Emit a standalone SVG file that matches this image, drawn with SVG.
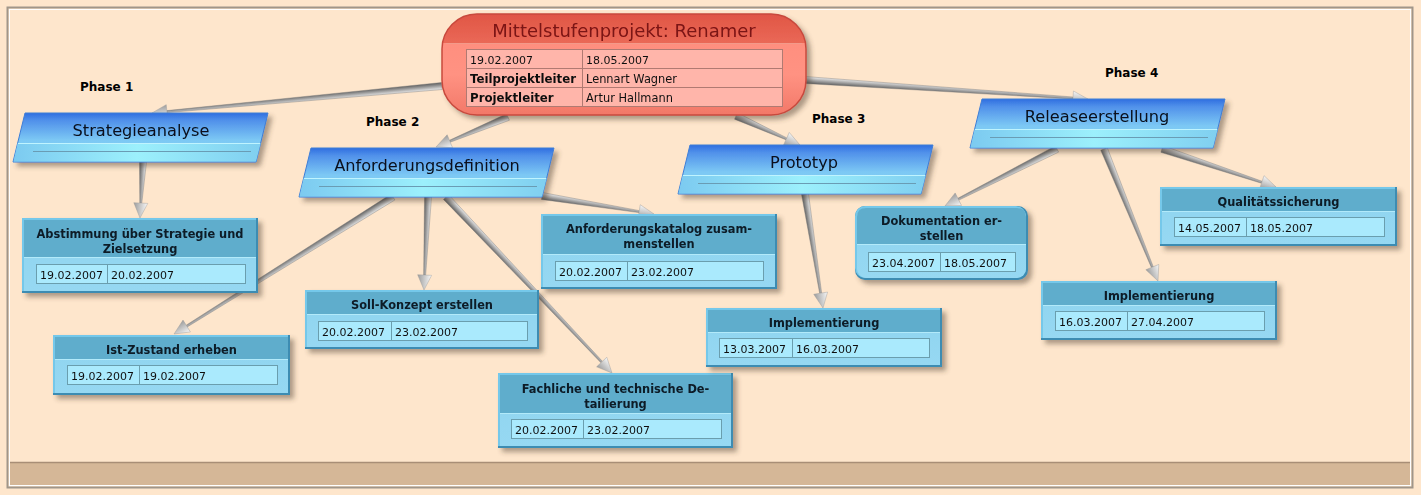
<svg xmlns="http://www.w3.org/2000/svg" width="1421" height="495" viewBox="0 0 1421 495">
<style>
.t{font-family:"DejaVu Sans",Verdana,sans-serif;font-size:11px;fill:#111}
.b{font-family:"DejaVu Sans",Verdana,sans-serif;font-size:11.4px;font-weight:bold;fill:#0d1a26}
.rb{font-family:"DejaVu Sans",Verdana,sans-serif;font-size:11.8px;font-weight:bold;fill:#111}
.rn{font-family:"DejaVu Sans",Verdana,sans-serif;font-size:11.4px;fill:#111}
.pl{font-family:"DejaVu Sans",Verdana,sans-serif;font-size:12px;font-weight:bold;fill:#000}
.pt{font-family:"DejaVu Sans",Verdana,sans-serif;font-size:16.2px;fill:#07101c}
.rt{font-family:"DejaVu Sans",Verdana,sans-serif;font-size:18px;fill:#7a1212}
.mid{text-anchor:middle}
.ed{fill:#3d8cb2}
.el{fill:#74c8ea}
.bd{fill:url(#bodyG)}
.hd{fill:#5fadcc}
.hl{stroke:#b2eafa;stroke-width:1}
.tb{fill:#aaeafd;stroke:#6b9eae;stroke-width:1}
.tl{stroke:#6b9eae;stroke-width:1}
.pg{fill:url(#phG);stroke:#3f7ed6;stroke-width:1}
.pb{fill:url(#bandG)}
.ps{stroke:#6a9cb4;stroke-width:1}
.pw{stroke:#bff4ff;stroke-width:1}
.sh{fill:url(#shaftG);stroke:#7a7a7a;stroke-width:0.4}
.ah{fill:url(#headG);stroke:#9a9a9a;stroke-width:0.4}
</style>
<defs>
<filter id="ds" x="-10%" y="-20%" width="130%" height="150%">
<feDropShadow dx="4" dy="4" stdDeviation="2.5" flood-color="#4a3a2a" flood-opacity="0.45"/>
</filter>
<linearGradient id="bodyG" x1="0" y1="0" x2="0" y2="1">
<stop offset="0" stop-color="#8ed4ef"/><stop offset="1" stop-color="#96d8f2"/>
</linearGradient>
<linearGradient id="phG" x1="0" y1="0" x2="0" y2="1">
<stop offset="0" stop-color="#2f6ee0"/><stop offset="0.15" stop-color="#5090ea"/><stop offset="0.55" stop-color="#7cc8f4"/><stop offset="1" stop-color="#86d2f2"/>
</linearGradient>
<linearGradient id="bandG" x1="0" y1="0" x2="1" y2="0">
<stop offset="0" stop-color="#7ccaf0"/><stop offset="0.5" stop-color="#9cf0fc"/><stop offset="1" stop-color="#80cff0"/>
</linearGradient>
<linearGradient id="rootG" x1="0" y1="0" x2="0" y2="1">
<stop offset="0" stop-color="#ff8c7c"/><stop offset="0.6" stop-color="#ff9282"/><stop offset="1" stop-color="#f27868"/>
</linearGradient>
<linearGradient id="rootH" x1="0" y1="0" x2="0" y2="1">
<stop offset="0" stop-color="#e05646"/><stop offset="1" stop-color="#ea6856"/>
</linearGradient>
<linearGradient id="shaftG" x1="0" y1="0" x2="0" y2="1">
<stop offset="0" stop-color="#ececec"/><stop offset="1" stop-color="#5e5e5e"/>
</linearGradient>
<linearGradient id="headG" x1="0" y1="0" x2="0" y2="1">
<stop offset="0" stop-color="#f8f8f8"/><stop offset="1" stop-color="#9c9c9c"/>
</linearGradient>
<clipPath id="rootClip"><rect x="442" y="14" width="364" height="101" rx="35"/></clipPath>
</defs>

<rect x="0" y="0" width="1421" height="495" fill="#fee6cc"/>
<g id="frame">
<rect x="7.5" y="7.5" width="1405" height="480" fill="none" stroke="#a0968a" stroke-width="2"/>
<rect x="9.5" y="9.5" width="1401" height="476" fill="none" stroke="#ffffff" stroke-width="1"/>
<rect x="10" y="462" width="1400" height="23" fill="#d5b797"/>
<line x1="10" y1="462.5" x2="1410" y2="462.5" stroke="#a88e76" stroke-width="1.5"/>
</g>

<g id="connectors">
<g transform="translate(442,86) rotate(174.68)"><path class="sh" d="M0,-3.5 L276.3,-1 L276.3,1 L0,3.5 Z"/><path class="ah" d="M276.3,-7 L291.3,0 L276.3,7 Z"/></g>
<g transform="translate(508,117) rotate(157.38)"><path class="sh" d="M0,-3.5 L63,-1 L63,1 L0,3.5 Z"/><path class="ah" d="M63,-7 L78,0 L63,7 Z"/></g>
<g transform="translate(736,116) rotate(24.38)"><path class="sh" d="M0,-3.5 L55.3,-1 L55.3,1 L0,3.5 Z"/><path class="ah" d="M55.3,-7 L70.3,0 L55.3,7 Z"/></g>
<g transform="translate(805,80) rotate(3.84)"><path class="sh" d="M0,-3.5 L268.6,-1 L268.6,1 L0,3.5 Z"/><path class="ah" d="M268.6,-7 L283.6,0 L268.6,7 Z"/></g>
<g transform="translate(143,162) rotate(93.07)"><path class="sh" d="M0,-3.5 L41.1,-1 L41.1,1 L0,3.5 Z"/><path class="ah" d="M41.1,-7 L56.1,0 L41.1,7 Z"/></g>
<g transform="translate(393,197) rotate(147.97)"><path class="sh" d="M0,-3.5 L243.3,-1 L243.3,1 L0,3.5 Z"/><path class="ah" d="M243.3,-7 L258.3,0 L243.3,7 Z"/></g>
<g transform="translate(428,197) rotate(92.46)"><path class="sh" d="M0,-3.5 L78.1,-1 L78.1,1 L0,3.5 Z"/><path class="ah" d="M78.1,-7 L93.1,0 L78.1,7 Z"/></g>
<g transform="translate(446,197) rotate(46.67)"><path class="sh" d="M0,-3.5 L226.9,-1 L226.9,1 L0,3.5 Z"/><path class="ah" d="M226.9,-7 L241.9,0 L226.9,7 Z"/></g>
<g transform="translate(542,196) rotate(9.13)"><path class="sh" d="M0,-3.5 L98.4,-1 L98.4,1 L0,3.5 Z"/><path class="ah" d="M98.4,-7 L113.4,0 L98.4,7 Z"/></g>
<g transform="translate(805,194) rotate(81.03)"><path class="sh" d="M0,-3.5 L100.4,-1 L100.4,1 L0,3.5 Z"/><path class="ah" d="M100.4,-7 L115.4,0 L100.4,7 Z"/></g>
<g transform="translate(1057,149) rotate(153.03)"><path class="sh" d="M0,-3.5 L110.7,-1 L110.7,1 L0,3.5 Z"/><path class="ah" d="M110.7,-7 L125.7,0 L110.7,7 Z"/></g>
<g transform="translate(1104,149) rotate(67.75)"><path class="sh" d="M0,-3.5 L127.6,-1 L127.6,1 L0,3.5 Z"/><path class="ah" d="M127.6,-7 L142.6,0 L127.6,7 Z"/></g>
<g transform="translate(1162,149) rotate(18.43)"><path class="sh" d="M0,-3.5 L105.2,-1 L105.2,1 L0,3.5 Z"/><path class="ah" d="M105.2,-7 L120.2,0 L105.2,7 Z"/></g>
</g>

<g id="root" filter="url(#ds)">
<rect x="442" y="14" width="364" height="101" rx="35" fill="url(#rootG)"/>
<rect x="442" y="14" width="364" height="29" fill="url(#rootH)" clip-path="url(#rootClip)"/>
<line x1="446" y1="43.5" x2="802" y2="43.5" stroke="#f39a8a" stroke-width="1"/>
<rect x="442" y="14" width="364" height="101" rx="35" fill="none" stroke="#c84a3e" stroke-width="1.5"/>
<text class="rt mid" x="624" y="37">Mittelstufenprojekt: Renamer</text>
<rect x="466.5" y="49.5" width="316" height="57" fill="#ffb5aa" stroke="#b07a72"/>
<line x1="466.5" y1="68.5" x2="782.5" y2="68.5" stroke="#b07a72"/>
<line x1="466.5" y1="87.5" x2="782.5" y2="87.5" stroke="#b07a72"/>
<line x1="582.5" y1="49.5" x2="582.5" y2="106.5" stroke="#b07a72"/>
<text class="t" x="470" y="64">19.02.2007</text>
<text class="t" x="586" y="64">18.05.2007</text>
<text class="rb" x="470" y="83">Teilprojektleiter</text>
<text class="rn" x="586" y="83">Lennart Wagner</text>
<text class="rb" x="470" y="102">Projektleiter</text>
<text class="rn" x="586" y="102">Artur Hallmann</text>
</g>

<g id="labels">
<text class="pl" x="80" y="91">Phase 1</text>
<text class="pl" x="366" y="126">Phase 2</text>
<text class="pl" x="812" y="123">Phase 3</text>
<text class="pl" x="1105" y="77">Phase 4</text>
</g>

<g id="phase1" filter="url(#ds)">
<polygon class="pg" points="25,113 268,113 256,162 13,162"/>
<polygon class="pb" points="17.7,143 260.7,143 256,161.5 13.5,161.5"/>
<line class="pw" x1="18" y1="143.5" x2="260" y2="143.5"/>
<line class="ps" x1="33" y1="151.5" x2="251" y2="151.5"/>
<text class="pt mid" x="141" y="136">Strategieanalyse</text>
</g>

<g id="phase2" filter="url(#ds)">
<polygon class="pg" points="311,148 554,148 542,197 299,197"/>
<polygon class="pb" points="303.7,178 546.7,178 542,196.5 299.5,196.5"/>
<line class="pw" x1="304" y1="178.5" x2="546" y2="178.5"/>
<line class="ps" x1="319" y1="186.5" x2="537" y2="186.5"/>
<text class="pt mid" x="427" y="171">Anforderungsdefinition</text>
</g>

<g id="phase3" filter="url(#ds)">
<polygon class="pg" points="690,145 933,145 921,194 678,194"/>
<polygon class="pb" points="682.7,175 925.7,175 921,193.5 678.5,193.5"/>
<line class="pw" x1="683" y1="175.5" x2="925" y2="175.5"/>
<line class="ps" x1="698" y1="183.5" x2="916" y2="183.5"/>
<text class="pt mid" x="804" y="168">Prototyp</text>
</g>

<g id="phase4" filter="url(#ds)">
<polygon class="pg" points="982,99 1225,99 1213,148 970,148"/>
<polygon class="pb" points="974.7,129 1217.7,129 1213,147.5 970.5,147.5"/>
<line class="pw" x1="975" y1="129.5" x2="1217" y2="129.5"/>
<line class="ps" x1="990" y1="137.5" x2="1208" y2="137.5"/>
<text class="pt mid" x="1097" y="122">Releaseerstellung</text>
</g>

<g id="task-abstimmung" filter="url(#ds)">
<rect class="ed" x="22" y="218" width="236" height="75"/>
<rect class="el" x="22" y="218" width="234" height="73"/>
<rect class="bd" x="24" y="220" width="232" height="71"/>
<rect class="hd" x="24" y="220" width="232" height="37"/>
<line class="hl" x1="24" y1="257.5" x2="256" y2="257.5"/>
<rect class="tb" x="36.5" y="264.5" width="209" height="19"/>
<line class="tl" x1="107.5" y1="264.5" x2="107.5" y2="283.5"/>
<text class="b mid" x="140" y="238">Abstimmung über Strategie und</text>
<text class="b mid" x="140" y="253">Zielsetzung</text>
<text class="t" x="40" y="278.5">19.02.2007</text>
<text class="t" x="111" y="278.5">20.02.2007</text>
</g>

<g id="task-istzustand" filter="url(#ds)">
<rect class="ed" x="53" y="335" width="237" height="60"/>
<rect class="el" x="53" y="335" width="235" height="58"/>
<rect class="bd" x="55" y="337" width="233" height="56"/>
<rect class="hd" x="55" y="337" width="233" height="22"/>
<line class="hl" x1="55" y1="359.5" x2="288" y2="359.5"/>
<rect class="tb" x="67.5" y="365.5" width="210" height="19"/>
<line class="tl" x1="139.5" y1="365.5" x2="139.5" y2="384.5"/>
<text class="b mid" x="171.5" y="354">Ist-Zustand erheben</text>
<text class="t" x="71" y="379.5">19.02.2007</text>
<text class="t" x="143" y="379.5">19.02.2007</text>
</g>

<g id="task-soll" filter="url(#ds)">
<rect class="ed" x="305" y="290" width="234" height="59"/>
<rect class="el" x="305" y="290" width="232" height="57"/>
<rect class="bd" x="307" y="292" width="230" height="55"/>
<rect class="hd" x="307" y="292" width="230" height="22"/>
<line class="hl" x1="307" y1="314.5" x2="537" y2="314.5"/>
<rect class="tb" x="318.5" y="321.5" width="209" height="19"/>
<line class="tl" x1="391.5" y1="321.5" x2="391.5" y2="340.5"/>
<text class="b mid" x="422" y="309">Soll-Konzept erstellen</text>
<text class="t" x="322" y="335.5">20.02.2007</text>
<text class="t" x="395" y="335.5">23.02.2007</text>
</g>

<g id="task-fachliche" filter="url(#ds)">
<rect class="ed" x="498" y="373" width="235" height="75"/>
<rect class="el" x="498" y="373" width="233" height="73"/>
<rect class="bd" x="500" y="375" width="231" height="71"/>
<rect class="hd" x="500" y="375" width="231" height="38"/>
<line class="hl" x1="500" y1="413.5" x2="731" y2="413.5"/>
<rect class="tb" x="511.5" y="419.5" width="210" height="19"/>
<line class="tl" x1="583.5" y1="419.5" x2="583.5" y2="438.5"/>
<text class="b mid" x="615.5" y="393">Fachliche und technische De-</text>
<text class="b mid" x="615.5" y="408">tailierung</text>
<text class="t" x="515" y="433.5">20.02.2007</text>
<text class="t" x="587" y="433.5">23.02.2007</text>
</g>

<g id="task-katalog" filter="url(#ds)">
<rect class="ed" x="541" y="214" width="236" height="75"/>
<rect class="el" x="541" y="214" width="234" height="73"/>
<rect class="bd" x="543" y="216" width="232" height="71"/>
<rect class="hd" x="543" y="216" width="232" height="38"/>
<line class="hl" x1="543" y1="254.5" x2="775" y2="254.5"/>
<rect class="tb" x="555.5" y="261.5" width="208" height="19"/>
<line class="tl" x1="627.5" y1="261.5" x2="627.5" y2="280.5"/>
<text class="b mid" x="659" y="233">Anforderungskatalog zusam-</text>
<text class="b mid" x="659" y="248">menstellen</text>
<text class="t" x="559" y="275.5">20.02.2007</text>
<text class="t" x="631" y="275.5">23.02.2007</text>
</g>

<g id="task-impl3" filter="url(#ds)">
<rect class="ed" x="706" y="308" width="236" height="59"/>
<rect class="el" x="706" y="308" width="234" height="57"/>
<rect class="bd" x="708" y="310" width="232" height="55"/>
<rect class="hd" x="708" y="310" width="232" height="22"/>
<line class="hl" x1="708" y1="332.5" x2="940" y2="332.5"/>
<rect class="tb" x="719.5" y="338.5" width="210" height="19"/>
<line class="tl" x1="792.5" y1="338.5" x2="792.5" y2="357.5"/>
<text class="b mid" x="824" y="327">Implementierung</text>
<text class="t" x="723" y="352.5">13.03.2007</text>
<text class="t" x="796" y="352.5">16.03.2007</text>
</g>

<g id="task-doku" filter="url(#ds)">
<rect class="ed" x="855" y="206" width="173" height="74" rx="10"/>
<rect class="el" x="855" y="206" width="171" height="72" rx="10"/>
<rect class="bd" x="857" y="208" width="169" height="70" rx="9"/>
<path class="hd" d="M857,244 V217 Q857,208 866,208 H1017 Q1026,208 1026,217 V244 Z"/>
<line class="hl" x1="857" y1="244.5" x2="1026" y2="244.5"/>
<rect class="tb" x="868.5" y="252.5" width="147" height="19"/>
<line class="tl" x1="940.5" y1="252.5" x2="940.5" y2="271.5"/>
<text class="b mid" x="941.5" y="225">Dokumentation er-</text>
<text class="b mid" x="941.5" y="240">stellen</text>
<text class="t" x="872" y="266.5">23.04.2007</text>
<text class="t" x="944" y="266.5">18.05.2007</text>
</g>

<g id="task-quali" filter="url(#ds)">
<rect class="ed" x="1160" y="187" width="237" height="59"/>
<rect class="el" x="1160" y="187" width="235" height="57"/>
<rect class="bd" x="1162" y="189" width="233" height="55"/>
<rect class="hd" x="1162" y="189" width="233" height="22"/>
<line class="hl" x1="1162" y1="211.5" x2="1395" y2="211.5"/>
<rect class="tb" x="1174.5" y="217.5" width="210" height="19"/>
<line class="tl" x1="1246.5" y1="217.5" x2="1246.5" y2="236.5"/>
<text class="b mid" x="1278.5" y="206">Qualitätssicherung</text>
<text class="t" x="1178" y="231.5">14.05.2007</text>
<text class="t" x="1250" y="231.5">18.05.2007</text>
</g>

<g id="task-impl4" filter="url(#ds)">
<rect class="ed" x="1041" y="281" width="236" height="59"/>
<rect class="el" x="1041" y="281" width="234" height="57"/>
<rect class="bd" x="1043" y="283" width="232" height="55"/>
<rect class="hd" x="1043" y="283" width="232" height="22"/>
<line class="hl" x1="1043" y1="305.5" x2="1275" y2="305.5"/>
<rect class="tb" x="1055.5" y="311.5" width="209" height="19"/>
<line class="tl" x1="1127.5" y1="311.5" x2="1127.5" y2="330.5"/>
<text class="b mid" x="1159" y="300">Implementierung</text>
<text class="t" x="1059" y="325.5">16.03.2007</text>
<text class="t" x="1131" y="325.5">27.04.2007</text>
</g>
</svg>
